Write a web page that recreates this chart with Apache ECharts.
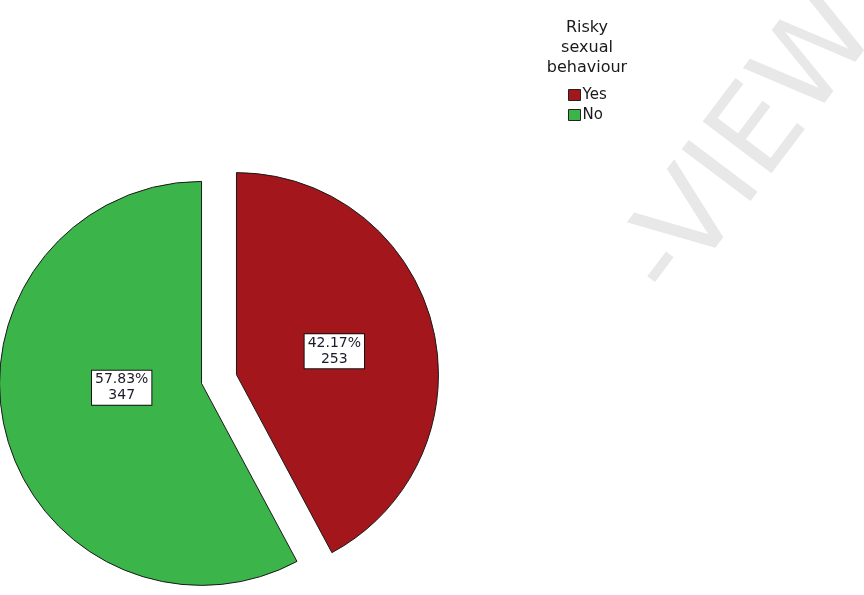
<!DOCTYPE html>
<html>
<head>
<meta charset="utf-8">
<script src="https://cdn.jsdelivr.net/npm/echarts@6/dist/echarts.min.js"></script>
<style>
html,body{margin:0;padding:0;background:#fff;}
#chart{width:864px;height:595px;}
</style>
</head>
<body>
<div id="chart"></div>
<script>
const categories = ['Yes', 'No'];
const counts = [253, 347];
const colors = ['#A3161B', '#3BB54A'];
const legendTitle = 'Risky\nsexual\nbehaviour';
const watermark = '-VIEW';

const chart = echarts.init(document.getElementById('chart'));
chart.setOption({
  backgroundColor: '#ffffff',
  animation: false,
  title: {
    text: legendTitle,
    left: 582,
    top: 13,
    textAlign: 'center',
    textStyle: {fontFamily: 'DejaVu Sans', fontSize: 16, lineHeight: 20, fontWeight: 'normal', color: '#1a1a1a'}
  },
  legend: {
    data: categories,
    orient: 'vertical',
    left: 563,
    top: 82,
    itemWidth: 12,
    itemHeight: 11,
    itemGap: 4,
    icon: 'rect',
    selectedMode: false,
    itemStyle: {borderColor: '#222', borderWidth: 1},
    textStyle: {fontFamily: 'DejaVu Sans', fontSize: 15, lineHeight: 16, color: '#1a1a1a', padding: [0,0,0,-3]}
  },
  graphic: [{
    type: 'text',
    x: 752, y: 148,
    rotation: 53 * Math.PI / 180,
    z: -10,
    silent: true,
    style: {text: watermark, fontFamily: 'DejaVu Sans', fontSize: 118, fill: '#e8e8e8', align: 'center', verticalAlign: 'middle'}
  }],
  series: [{
    type: 'pie',
    center: [219, 379],
    radius: [0, 202],
    startAngle: 90,
    clockwise: true,
    selectedMode: 'multiple',
    selectedOffset: 18,
    emphasis: {disabled: true},
    itemStyle: {borderColor: '#1a1a1a', borderWidth: 1},
    label: {
      show: true,
      position: 'inside',
      formatter: '{d}%\n{c}',
      fontFamily: 'DejaVu Sans',
      fontSize: 14,
      lineHeight: 16,
      color: '#1a1a2a',
      backgroundColor: '#ffffff',
      borderColor: '#111',
      borderWidth: 1,
      padding: [1, 3]
    },
    labelLayout: function (params) {
      return params.dataIndex === 1 ? {dx: 21, dy: -21} : {dx: -3, dy: 2};
    },
    labelLine: {show: false},
    data: categories.map((c, i) => ({name: c, value: counts[i], selected: true, itemStyle: {color: colors[i]}}))
  }]
});
</script>
</body>
</html>
